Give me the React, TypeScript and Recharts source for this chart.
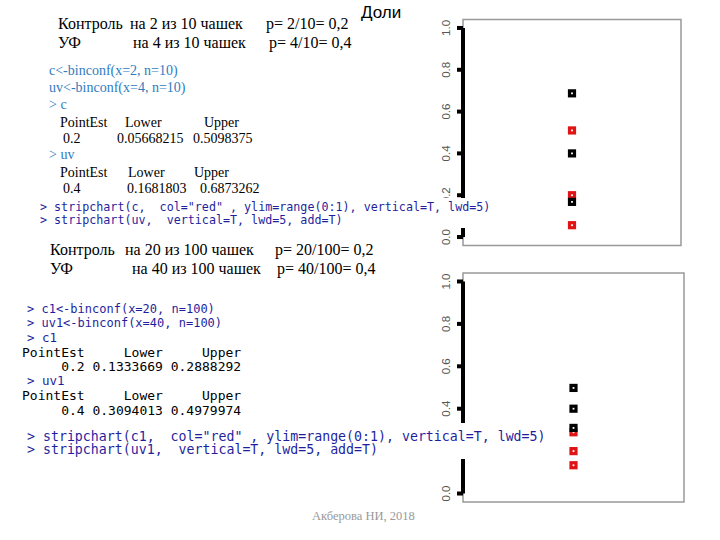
import React from 'react';
import { ScatterChart, Scatter, XAxis, YAxis, ReferenceArea, ReferenceLine } from 'recharts';

// binconf results
const cVals = [0.2, 0.05668215, 0.5098375];
const uvVals = [0.4, 0.1681803, 0.6873262];
const c1Vals = [0.2, 0.1333669, 0.2888292];
const uv1Vals = [0.4, 0.3094013, 0.4979974];
const yTicks = [0, 0.2, 0.4, 0.6, 0.8, 1];
const tickLabels = ['0.0', '0.2', '0.4', '0.6', '0.8', '1.0'];
const stripX = 1;

const toPoints = (vals: number[]) => vals.map((v) => ({ x: stripX, y: v }));

const SERIF = '"Liberation Serif", "Times New Roman", serif';
const SANS = '"Liberation Sans", Arial, sans-serif';
const MONO = '"DejaVu Sans Mono", monospace';

const square = (color: string) => (props: any) => {
  const { cx, cy } = props;
  return <rect x={cx - 2.5} y={cy - 2.5} width={5} height={5} fill="#fff" stroke={color} strokeWidth={3.2} />;
};

const RTick = ({ x, y, payload }: any) => {
  const i = yTicks.indexOf(payload.value);
  return (
    <text
      x={x - 11}
      y={y}
      transform={`rotate(-90 ${x - 11} ${y})`}
      textAnchor="middle"
      dominantBaseline="central"
      fontSize={11.5}
      fill="#555"
      fontFamily={SANS}
    >
      {tickLabels[i]}
    </text>
  );
};

const Strip = ({ red, black, margin }: { red: number[]; black: number[]; margin: any }) => (
  <ScatterChart width={280} height={260} margin={margin}>
    <XAxis type="number" dataKey="x" domain={[0, 2]} hide />
    <YAxis
      type="number"
      dataKey="y"
      domain={[-0.04, 1.04]}
      ticks={yTicks}
      width={30}
      axisLine={false}
      tickSize={6}
      tickMargin={0}
      tickLine={{ stroke: '#000', strokeWidth: 4 }}
      tick={<RTick />}
    />
    <ReferenceArea x1={0} x2={2} y1={-0.04} y2={1.04} fill="none" stroke="#999" strokeWidth={1.5} />
    <ReferenceLine segment={[{ x: 0, y: 0 }, { x: 0, y: 1 }]} stroke="#000" strokeWidth={4} />
    <Scatter data={toPoints(red)} shape={square('#e01414')} isAnimationActive={false} />
    <Scatter data={toPoints(black)} shape={square('#000')} isAnimationActive={false} />
  </ScatterChart>
);

const T = ({ x, b, size, font = SERIF, color = '#000', z = 1, children }: any) => (
  <div
    style={{
      position: 'absolute',
      left: x,
      top: b - size * 0.84,
      fontSize: size,
      lineHeight: `${size}px`,
      fontFamily: font,
      color,
      whiteSpace: 'pre',
      zIndex: z,
    }}
  >
    {children}
  </div>
);

const BLUE1 = '#2f7cc0';
const NAVY = '#1f1f9e';

export default function App() {
  return (
    <div style={{ position: 'absolute', left: 0, top: 0, width: 720, height: 540, background: '#fff', overflow: 'hidden' }}>
      <div style={{ position: 'absolute', left: 420, top: 0 }}>
        <Strip red={cVals} black={uvVals} margin={{ top: 19.6, right: 19, bottom: 14.6, left: 13 }} />
      </div>
      <div style={{ position: 'absolute', left: 420, top: 260 }}>
        <Strip red={c1Vals} black={uv1Vals} margin={{ top: 13, right: 16, bottom: 18, left: 13 }} />
      </div>

      <T x={361} b={18} size={17} font={SANS}>Доли</T>

      <T x={58} b={29} size={16}>Контроль</T>
      <T x={130} b={29} size={16}>на 2 из 10 чашек</T>
      <T x={266} b={29} size={16}>p= 2/10= 0,2</T>
      <T x={58} b={48} size={16}>УФ</T>
      <T x={133} b={48} size={16}>на 4 из 10 чашек</T>
      <T x={269} b={48} size={16}>p= 4/10= 0,4</T>

      <T x={49} b={76} size={14} color={BLUE1}>{'c<-binconf(x=2, n=10)'}</T>
      <T x={49} b={93} size={14} color={BLUE1}>{'uv<-binconf(x=4, n=10)'}</T>
      <T x={49} b={110} size={14} color={BLUE1}>{'> c'}</T>
      <T x={60} b={128} size={14}>PointEst</T>
      <T x={125} b={128} size={14}>Lower</T>
      <T x={204} b={128} size={14}>Upper</T>
      <T x={63} b={144} size={14}>0.2</T>
      <T x={117} b={144} size={14}>0.05668215</T>
      <T x={193} b={144} size={14}>0.5098375</T>
      <T x={49} b={160} size={14} color={BLUE1}>{'> uv'}</T>
      <T x={60} b={178} size={14}>PointEst</T>
      <T x={128} b={178} size={14}>Lower</T>
      <T x={194} b={178} size={14}>Upper</T>
      <T x={63} b={194} size={14}>0.4</T>
      <T x={127} b={194} size={14}>0.1681803</T>
      <T x={200} b={194} size={14}>0.6873262</T>

      <div style={{ position: 'absolute', left: 36, top: 198, width: 458, height: 30, background: '#fff', zIndex: 4 }} />
      <T x={40} b={212} size={11.7} font={MONO} color={NAVY} z={6}>{'> stripchart(c,  col="red" , ylim=range(0:1), vertical=T, lwd=5)'}</T>
      <T x={40} b={225} size={11.7} font={MONO} color={NAVY} z={6}>{'> stripchart(uv,  vertical=T, lwd=5, add=T)'}</T>

      <T x={50} b={255} size={16}>Контроль</T>
      <T x={125} b={255} size={16}>на 20 из 100 чашек</T>
      <T x={275} b={255} size={16}>p= 20/100= 0,2</T>
      <T x={50} b={274} size={16}>УФ</T>
      <T x={132} b={274} size={16}>на 40 из 100 чашек</T>
      <T x={277} b={274} size={16}>p= 40/100= 0,4</T>

      <T x={27} b={313} size={12} font={MONO} color={NAVY}>{'> c1<-binconf(x=20, n=100)'}</T>
      <T x={27} b={327.5} size={12} font={MONO} color={NAVY}>{'> uv1<-binconf(x=40, n=100)'}</T>
      <T x={27} b={342} size={12.5} font={MONO} color={NAVY}>{'> c1'}</T>
      <T x={22} b={356.5} size={13} font={MONO}>{'PointEst     Lower     Upper'}</T>
      <T x={22} b={371} size={13} font={MONO}>{'     0.2 0.1333669 0.2888292'}</T>
      <T x={27} b={385.5} size={12.5} font={MONO} color={NAVY}>{'> uv1'}</T>
      <T x={22} b={400} size={13} font={MONO}>{'PointEst     Lower     Upper'}</T>
      <T x={22} b={414.5} size={13} font={MONO}>{'     0.4 0.3094013 0.4979974'}</T>

      <div style={{ position: 'absolute', left: 24, top: 423, width: 528, height: 36, background: '#fff', zIndex: 4 }} />
      <T x={27} b={441} size={13.25} font={MONO} color={NAVY} z={6}>{'> stripchart(c1,  col="red" , ylim=range(0:1), vertical=T, lwd=5)'}</T>
      <T x={27} b={454.5} size={13.25} font={MONO} color={NAVY} z={6}>{'> stripchart(uv1,  vertical=T, lwd=5, add=T)'}</T>

      <T x={312} b={520} size={12.5} color="#999">Акберова НИ, 2018</T>
    </div>
  );
}
